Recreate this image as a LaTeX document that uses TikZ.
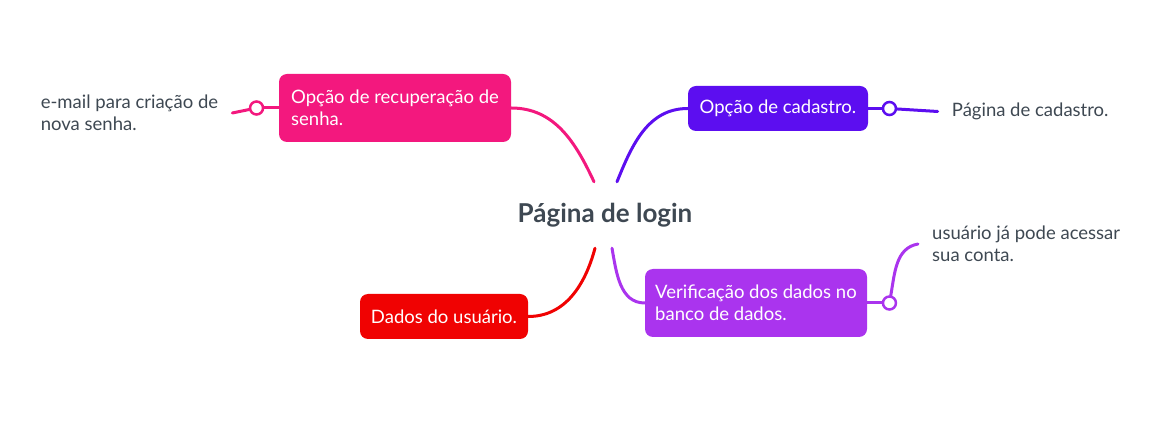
\documentclass[tikz,border=0pt]{standalone}
\usepackage{fontspec}
\setmainfont{Lato}
\usetikzlibrary{arrows,positioning}
\definecolor{rosa}{RGB}{243,24,126}
\definecolor{azul}{RGB}{92,14,240}
\definecolor{vermelho}{RGB}{240,2,2}
\definecolor{violeta}{RGB}{170,52,238}
\definecolor{cinza}{RGB}{62,72,82}
\tikzset{
    %Define style for boxes
    caixa/.style={
           rectangle,
           rounded corners=8pt,
           text=white,
           minimum height=45pt,
           inner sep=0pt,
           align=left,
           font=\fontsize{18.5}{22}\selectfont},
    %Define style for the loose texts
    folha/.style={
           text=cinza,
           inner xsep=14pt,
           inner ysep=0pt,
           align=left,
           font=\fontsize{18.5}{22}\selectfont},
    bola/.style={
           circle,
           draw, fill=white,
           line width=2.5pt,
           minimum size=13pt,
           inner sep=0pt},
    % Define line style
    elo/.style={
           line width=3pt,
           line cap=round}
}
\begin{document}
\begin{tikzpicture}[x=1pt,y=1pt]
\useasboundingbox (0,0) rectangle (1162,431);

 %nodes
\node[text=cinza, font=\fontsize{26}{28}\selectfont\bfseries, minimum height=66pt, inner sep=0pt](login) at (605,216){Página de login};
\node[caixa, fill=rosa, minimum width=232pt, minimum height=68pt](rec) at (395,323){Opção de recuperação de\\senha.};
\node[caixa, fill=azul, minimum width=180pt](cad) at (778,322.5){Opção de cadastro.};
\node[caixa, fill=vermelho, minimum width=168pt](dad) at (444,114.5){Dados do usuário.};
\node[caixa, fill=violeta, minimum width=222pt, minimum height=68pt](ver) at (756,128){Verificação dos dados no\\banco de dados.};

\node[bola, draw=rosa, left=14.5pt of rec](rc){};
\node[bola, draw=azul, right=13.5pt of cad](cc){};
\node[bola, draw=violeta, right=14.5pt of ver](vc){};

\node[folha, left=16.5pt of rc, yshift=-5pt](email){e-mail para criação de\\nova senha.};
\node[folha, right=40.5pt of cc, yshift=-3pt](pag){Página de cadastro.};
\node[folha, anchor=west](uso) at (918,187){usuário já pode acessar\\sua conta.};

 \path[elo]
    (rec.east) edge[rosa, out=0, in=115] ([xshift=-11pt]login.north)
    ([xshift=12pt]login.north) edge[azul, out=68, in=180] (cad.west)
    ([xshift=-10pt]login.south) edge[vermelho, out=-105, in=0] (dad.east)
    ([xshift=7pt]login.south) edge[violeta, out=-80, in=180] (ver.west)
    (rec.west) edge[rosa] (rc)
    (rc) edge[rosa] (email.east)
    (cad.east) edge[azul] (cc)
    (cc) edge[azul] (pag.west)
    (ver.east) edge[violeta] (vc)
    (vc) edge[violeta, out=80, in=190] (uso.west);

\end{tikzpicture}
\end{document}
